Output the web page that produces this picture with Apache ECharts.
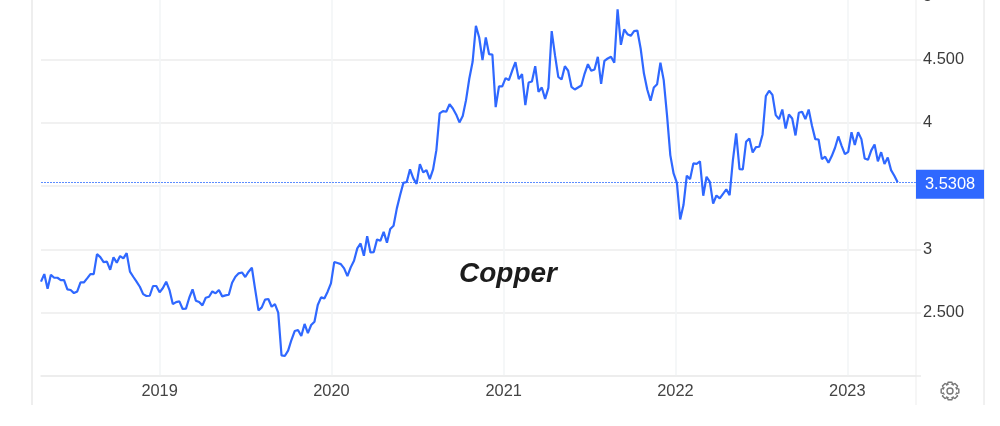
<!DOCTYPE html>
<html>
<head>
<meta charset="utf-8">
<style>html,body{margin:0;padding:0;background:#fff}#c{width:1000px;height:426px}</style>
<script src="https://cdn.jsdelivr.net/npm/echarts@6/dist/echarts.min.js"></script>
</head>
<body>
<div id="c"></div>
<script>
const chartTitle = 'Copper';
const firstWeek = '2018-04-24';
const axisStart = '2018-04-24';
const axisEnd = '2023-05-27';
const yearTicks = ['2019', '2020', '2021', '2022', '2023'];
const priceLabels = {5: '5', 4.5: '4.500', 4: '4', 3: '3', 2.5: '2.500'};
const lastPrice = 3.5308;
const weeklyPrices = [
2.745,2.805,2.689,2.800,2.776,2.776,2.758,2.758,2.684,2.679,2.655,2.668,2.739,2.739,2.771,2.805,2.805,2.963,2.939,2.900,
2.903,2.839,2.937,2.895,2.947,2.929,2.971,2.824,2.784,2.745,2.705,2.647,2.632,2.634,2.711,2.711,2.661,2.695,2.745,2.679,
2.568,2.584,2.589,2.529,2.532,2.618,2.684,2.595,2.584,2.558,2.618,2.626,2.668,2.653,2.679,2.629,2.637,2.642,2.737,2.784,
2.811,2.818,2.782,2.824,2.855,2.684,2.518,2.542,2.603,2.608,2.547,2.568,2.500,2.163,2.158,2.200,2.284,2.355,2.363,2.316,
2.411,2.339,2.403,2.429,2.561,2.621,2.613,2.666,2.732,2.900,2.892,2.884,2.850,2.789,2.858,2.911,3.008,3.047,2.950,3.105,
2.976,2.979,3.079,3.068,3.139,3.053,3.161,3.187,3.324,3.429,3.526,3.532,3.632,3.561,3.518,3.674,3.608,3.626,3.555,3.632,
3.784,4.074,4.092,4.087,4.147,4.113,4.066,4.003,4.053,4.179,4.350,4.482,4.766,4.674,4.495,4.674,4.542,4.539,4.124,4.287,
4.287,4.353,4.337,4.411,4.479,4.345,4.384,4.139,4.318,4.326,4.447,4.245,4.279,4.189,4.276,4.724,4.534,4.363,4.342,4.447,
4.411,4.284,4.263,4.279,4.295,4.389,4.463,4.411,4.421,4.521,4.308,4.489,4.508,4.521,4.474,4.897,4.616,4.737,4.700,4.687,
4.724,4.729,4.587,4.389,4.263,4.174,4.279,4.305,4.474,4.337,4.061,3.745,3.600,3.526,3.237,3.350,3.582,3.555,3.679,3.676,
3.695,3.424,3.574,3.534,3.361,3.426,3.403,3.439,3.474,3.429,3.705,3.916,3.634,3.632,3.850,3.876,3.766,3.808,3.811,3.908,
4.211,4.253,4.221,4.061,4.029,4.105,3.955,4.066,4.034,3.900,4.079,4.087,4.029,4.105,3.976,3.871,3.868,3.713,3.732,3.684,
3.737,3.803,3.892,3.818,3.753,3.771,3.926,3.824,3.926,3.871,3.718,3.708,3.782,3.829,3.695,3.768,3.674,3.726,3.626,3.582,
3.5308
];

const DAY = 86400000;
const t0 = new Date(firstWeek + 'T00:00:00Z').getTime();
const seriesData = weeklyPrices.map((v, i) => [t0 + i * 7 * DAY, v]);

const chart = echarts.init(document.getElementById('c'), null, {renderer: 'canvas'});
const FONT = '"Liberation Sans", Arial, sans-serif';
const vline = (x, color, w) => ({type: 'line', silent: true, z: 0,
  shape: {x1: x, y1: 0, x2: x, y2: 405}, style: {stroke: color, lineWidth: w || 1.5}});
const gearPts = [];
for (let i = 0; i < 8; i++) {
  const a = i * Math.PI / 4;
  [[-0.42, 6.9], [-0.2, 9], [0.2, 9], [0.42, 6.9]].forEach(([da, r]) =>
    gearPts.push([950 + r * Math.cos(a + da), 391 + r * Math.sin(a + da)]));
}
const priceLine = {color: '#5c8dff', type: [2, 1], width: 1.2, opacity: 1};

chart.setOption({
  animation: false,
  backgroundColor: '#ffffff',
  title: {
    text: chartTitle, left: 459, top: 258, padding: 0,
    textStyle: {fontFamily: FONT, fontSize: 28, fontWeight: 'bold', fontStyle: 'italic', color: '#1c1c1c', lineHeight: 32}
  },
  grid: {left: 41, right: 84, top: -3.8, bottom: 50, containLabel: false, outerBoundsMode: 'none'},
  xAxis: {
    type: 'time',
    min: new Date(axisStart + 'T00:00:00Z').getTime(),
    max: new Date(axisEnd + 'T00:00:00Z').getTime(),
    minInterval: 365 * DAY,
    maxInterval: 366 * DAY,
    axisLine: {show: true, onZero: false, lineStyle: {color: '#ececec', width: 1.5}},
    axisTick: {show: false},
    splitLine: {show: true, showMinLine: false, showMaxLine: false, lineStyle: {color: '#f2f5f6', width: 1.5}},
    axisLabel: {
      margin: 7, fontFamily: FONT, fontSize: 16.4, color: '#444', hideOverlap: false,
      showMinLabel: false, showMaxLabel: false,
      formatter: v => { const y = String(new Date(v).getUTCFullYear()); const d = new Date(v);
        return yearTicks.includes(y) && d.getUTCMonth() === 0 && d.getUTCDate() <= 1 ? y : ''; }
    }
  },
  yAxis: {
    type: 'value', position: 'right', min: 2, max: 5, interval: 0.5,
    axisLine: {show: false},
    axisTick: {show: true, length: 5, lineStyle: {color: '#ececec', width: 1.5}},
    splitLine: {show: true, lineStyle: {color: '#ececec', width: 1.5}},
    axisLabel: {
      margin: 7, fontFamily: FONT, fontSize: 16.4, color: '#3c3c3c',
      showMinLabel: true, showMaxLabel: true, padding: [0, 0, 1, 0],
      formatter: v => priceLabels[v] || ''
    }
  },
  series: [{
    type: 'line',
    name: chartTitle,
    data: seriesData,
    showSymbol: false,
    symbol: 'none',
    clip: false,
    z: 5,
    lineStyle: {color: '#2f68ff', width: 2.2},
    markLine: {
      silent: true, symbol: 'none', animation: false,
      lineStyle: priceLine,
      data: [{yAxis: lastPrice, lineStyle: priceLine}],
      label: {
        show: true, position: 'end', distance: 0, offset: [0, 2],
        formatter: () => String(lastPrice),
        fontFamily: FONT, fontSize: 16.4, color: '#fff', backgroundColor: '#2f68ff',
        width: 59, height: 29, lineHeight: 29, align: 'left', verticalAlign: 'middle',
        padding: [0, 0, 0, 9]
      },
      emphasis: {disabled: true}
    }
  }],
  graphic: [
    vline(32, '#e8e8e8', 1.5),
    vline(916, '#ededed', 1),
    vline(984, '#e2e2e2', 1),
    {type: 'polygon', silent: true, z: 10, shape: {points: gearPts}, style: {fill: 'none', stroke: '#777', lineWidth: 1.4}},
    {type: 'circle', silent: true, z: 10, shape: {cx: 950, cy: 391, r: 3}, style: {fill: 'none', stroke: '#777', lineWidth: 1.4}}
  ]
});
</script>
</body>
</html>
